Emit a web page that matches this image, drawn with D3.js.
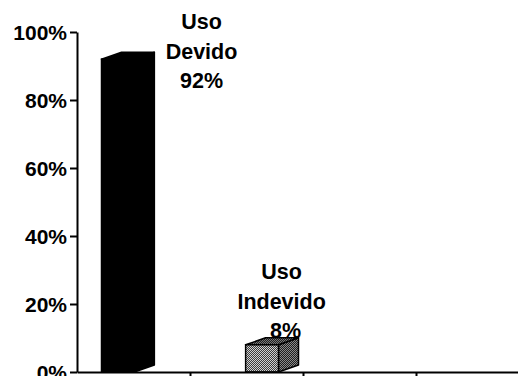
<!DOCTYPE html>
<html>
<head>
<meta charset="utf-8">
<script src="https://cdn.jsdelivr.net/npm/d3@7"></script>
<style>
  html, body { margin: 0; padding: 0; background: #fff; }
  svg { display: block; }
  text { font-family: "Liberation Sans", Arial, sans-serif; font-weight: bold; fill: #000; }
</style>
</head>
<body>
<div id="chart"></div>
<script>
// Share of use, by category
const categories = ["Uso Devido", "Uso Indevido"];
const values = [0.92, 0.08];
const labelLines = [["Uso", "Devido"], ["Uso", "Indevido"]];
const yTickValues = [0, 0.2, 0.4, 0.6, 0.8, 1.0];
const slotTicks = [1, 2, 3];

const width = 518, height = 376;
const axisLeftX = 77, axisBottomY = 372, axisTopY = 32;
const depthX = 20, depthY = 7;

const svg = d3.select("#chart").append("svg")
  .attr("width", width).attr("height", height);

// Patterns for the textured box
const defs = svg.append("defs");
function dither(id, dark, light) {
  const p = defs.append("pattern").attr("id", id)
    .attr("width", 2).attr("height", 2).attr("patternUnits", "userSpaceOnUse");
  p.append("rect").attr("width", 2).attr("height", 2).attr("fill", dark);
  p.append("rect").attr("x", 0).attr("y", 0).attr("width", 1).attr("height", 1).attr("fill", light);
  p.append("rect").attr("x", 1).attr("y", 1).attr("width", 1).attr("height", 1).attr("fill", light);
}
dither("texFront", "#3c3c3c", "#d0d0d0");
dither("texSide", "#1e1e1e", "#8a8a8a");
dither("texTop", "#1e1e1e", "#7a7a7a");

const y = d3.scaleLinear().domain([0, 1]).range([axisBottomY, axisTopY]);
const x = d3.scaleBand().domain(categories)
  .range([axisLeftX, axisLeftX + 226])
  .paddingInner(0.772).paddingOuter(0.17);
const slot = d3.scaleLinear().domain([0, 4]).range([axisLeftX, axisLeftX + 452]);

// Bars drawn as boxes: front face, side face, top face
const styles = [
  { front: "#000", side: "#000", top: "#000" },
  { front: "url(#texFront)", side: "url(#texSide)", top: "url(#texTop)" }
];
const bars = svg.append("g").selectAll("g").data(categories).join("g");
bars.each(function (c, i) {
  const g = d3.select(this);
  const x0 = x(c), x1 = x(c) + x.bandwidth();
  const yt = y(values[i]), yb = y(0);
  const st = styles[i];
  g.append("polygon")
    .attr("points", [[x1, yb], [x1 + depthX, yb - depthY], [x1 + depthX, yt - depthY], [x1, yt]].join(" "))
    .attr("fill", st.side).attr("stroke", "#000").attr("stroke-width", 1.5).attr("stroke-linejoin", "round");
  g.append("polygon")
    .attr("points", [[x0, yt], [x1, yt], [x1 + depthX, yt - depthY], [x0 + depthX, yt - depthY]].join(" "))
    .attr("fill", st.top).attr("stroke", "#000").attr("stroke-width", 1.5).attr("stroke-linejoin", "round");
  g.append("rect")
    .attr("x", x0).attr("y", yt).attr("width", x1 - x0).attr("height", yb - yt)
    .attr("fill", st.front).attr("stroke", "#000").attr("stroke-width", 1.5);
});

// Axes
const yAxis = d3.axisLeft(y).tickValues(yTickValues).tickSize(7).tickSizeOuter(0)
  .tickPadding(3).tickFormat(d3.format(".0%"));
const gy = svg.append("g").attr("transform", `translate(${axisLeftX},0)`).call(yAxis);
gy.select(".domain").attr("stroke", "#000").attr("stroke-width", 2);
gy.selectAll(".tick line").attr("stroke", "#000").attr("stroke-width", 2);
gy.selectAll(".tick text").attr("font-size", 21).attr("font-family", null).attr("dy", "0.36em");

const xAxis = d3.axisBottom(slot).tickValues(slotTicks).tickSize(5).tickSizeOuter(0).tickFormat("");
const gx = svg.append("g").attr("transform", `translate(0,${axisBottomY})`).call(xAxis);
gx.select(".domain").attr("stroke", "#000").attr("stroke-width", 2);
gx.selectAll(".tick line").attr("stroke", "#000").attr("stroke-width", 2);

// Category labels with value
const labelLayout = [
  { dx: 100, top: 29, valueDx: 0 },
  { dx: 36, top: 279, valueDx: 4 }
];
const lineGap = 29.5;
const fmt = d3.format(".0%");
categories.forEach((c, i) => {
  const L = labelLayout[i];
  const cx = x(c) + L.dx;
  const lines = labelLines[i].concat([fmt(values[i])]);
  const t = svg.append("text").attr("text-anchor", "middle").attr("font-size", 21.5);
  lines.forEach((s, k) => {
    t.append("tspan")
      .attr("x", cx + (k === lines.length - 1 ? L.valueDx : 0))
      .attr("y", L.top + k * lineGap)
      .text(s);
  });
});
</script>
</body>
</html>
